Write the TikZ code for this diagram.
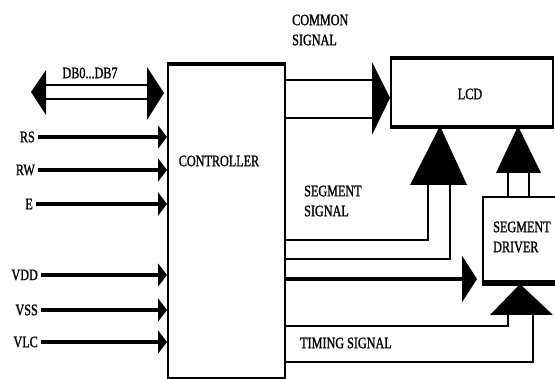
\documentclass[tikz,border=0pt]{standalone}
\usepackage{fontspec}
\setmainfont{Liberation Serif}[FakeStretch=0.76,FakeBold=1.2]
\usetikzlibrary{arrows.meta}
\begin{document}
\begin{tikzpicture}[x=1pt,y=-1pt,
  lbl/.style={inner sep=0pt, font=\fontsize{16}{20}\selectfont, align=left},
  box/.style={draw, line width=2pt, inner sep=0pt},
  sig/.style={line width=2.8pt},
  bus/.style={line width=4pt},
  inarrow/.style={line width=4pt, shorten <=3pt, -{Triangle[length=9pt,width=23pt]}},
  head/.style={fill=black}
]
\clip (0,0) rectangle (555,379);
\fill[white] (0,0) rectangle (555,379);

% boxes
\node[box, minimum width=117pt, minimum height=313pt] (ctrl) at (226.5,221.5) {};
\draw[line width=4pt] (ctrl.north west) -- (ctrl.north east);
\node[lbl] (ctrltxt) at (219,161) {CONTROLLER};

\node[box, minimum width=162pt, minimum height=67pt] (lcd) at (472,92.5) {};
\draw[line width=3pt] (lcd.north west) -- (lcd.north east);
\draw[line width=4.5pt] (lcd.south west) -- (lcd.south east);
\node[lbl] (lcdtxt) at (470,94) {LCD};

\node[box, minimum width=82pt, minimum height=85pt] (seg) at (524,239.5) {};
\draw[line width=6pt] (seg.south west) -- (seg.south east);
\node[lbl, anchor=west] (segtxt) at (493,237) {SEGMENT\\DRIVER};

% data bus
\node[lbl] (db) at (90,73) {DB0...DB7};
\coordinate (dbl) at (31,92);
\coordinate (dbr) at (164,93);
\draw[sig] (dbl) ++(15,-7) -- ++(101,0);
\draw[sig] (dbl) ++(15,7) -- ++(101,0);
\fill[head] (dbl) -- ++(15,-22) -- ++(0,45) -- cycle;
\fill[head] (dbr) -- ++(-17,-26) -- ++(0,53) -- cycle;

% control inputs
\node[lbl, anchor=east] (rs) at (35,137) {RS};
\node[lbl, anchor=east] (rw) at (35,170) {RW};
\node[lbl, anchor=east] (e) at (33,204) {E};
\node[lbl, anchor=east] (vdd) at (38,275) {VDD};
\node[lbl, anchor=east] (vss) at (38,310) {VSS};
\node[lbl, anchor=east] (vlc) at (38,342) {VLC};
\foreach \n in {rs,rw,e,vdd,vss,vlc}
  \draw[inarrow] (\n) -- (\n -| ctrl.west);

% common signal
\node[lbl, anchor=west] (comtxt) at (292,30) {COMMON\\SIGNAL};
\coordinate (t1) at (390,98);
\draw[sig] (ctrl.east |- 0,80) -- (372,80);
\draw[sig] (ctrl.east |- 0,118) -- (372,118);
\fill[head] (t1) -- (372,62) -- (372,135) -- cycle;

% segment signal to LCD
\node[lbl, anchor=west] (segsig) at (304,201) {SEGMENT\\SIGNAL};
\fill[head] (440,126) -- (410,185) -- (467,185) -- cycle;
\draw[sig] (ctrl.east |- 0,240) -| (428,185);
\draw[sig] (ctrl.east |- 0,259) -| (450,185);

% segment driver to LCD
\fill[head] (518,126) -- (496,173) -- (541,173) -- cycle;
\draw[sig] (508,173) -- (508,0 |- seg.north);
\draw[sig] (529,173) -- (529,0 |- seg.north);

% arrow to segment driver
\draw[bus, -{Triangle[length=15pt,width=46pt]}] (ctrl.east |- 0,279) -- (477,279);

% timing signal
\node[lbl, anchor=west] (timtxt) at (300,343) {TIMING SIGNAL};
\fill[head] (520,284) -- (490,315) -- (553,315) -- cycle;
\draw[sig] (ctrl.east |- 0,326) -| (508,315);
\draw[sig] (ctrl.east |- 0,362) -| (533,315);
\end{tikzpicture}
\end{document}
